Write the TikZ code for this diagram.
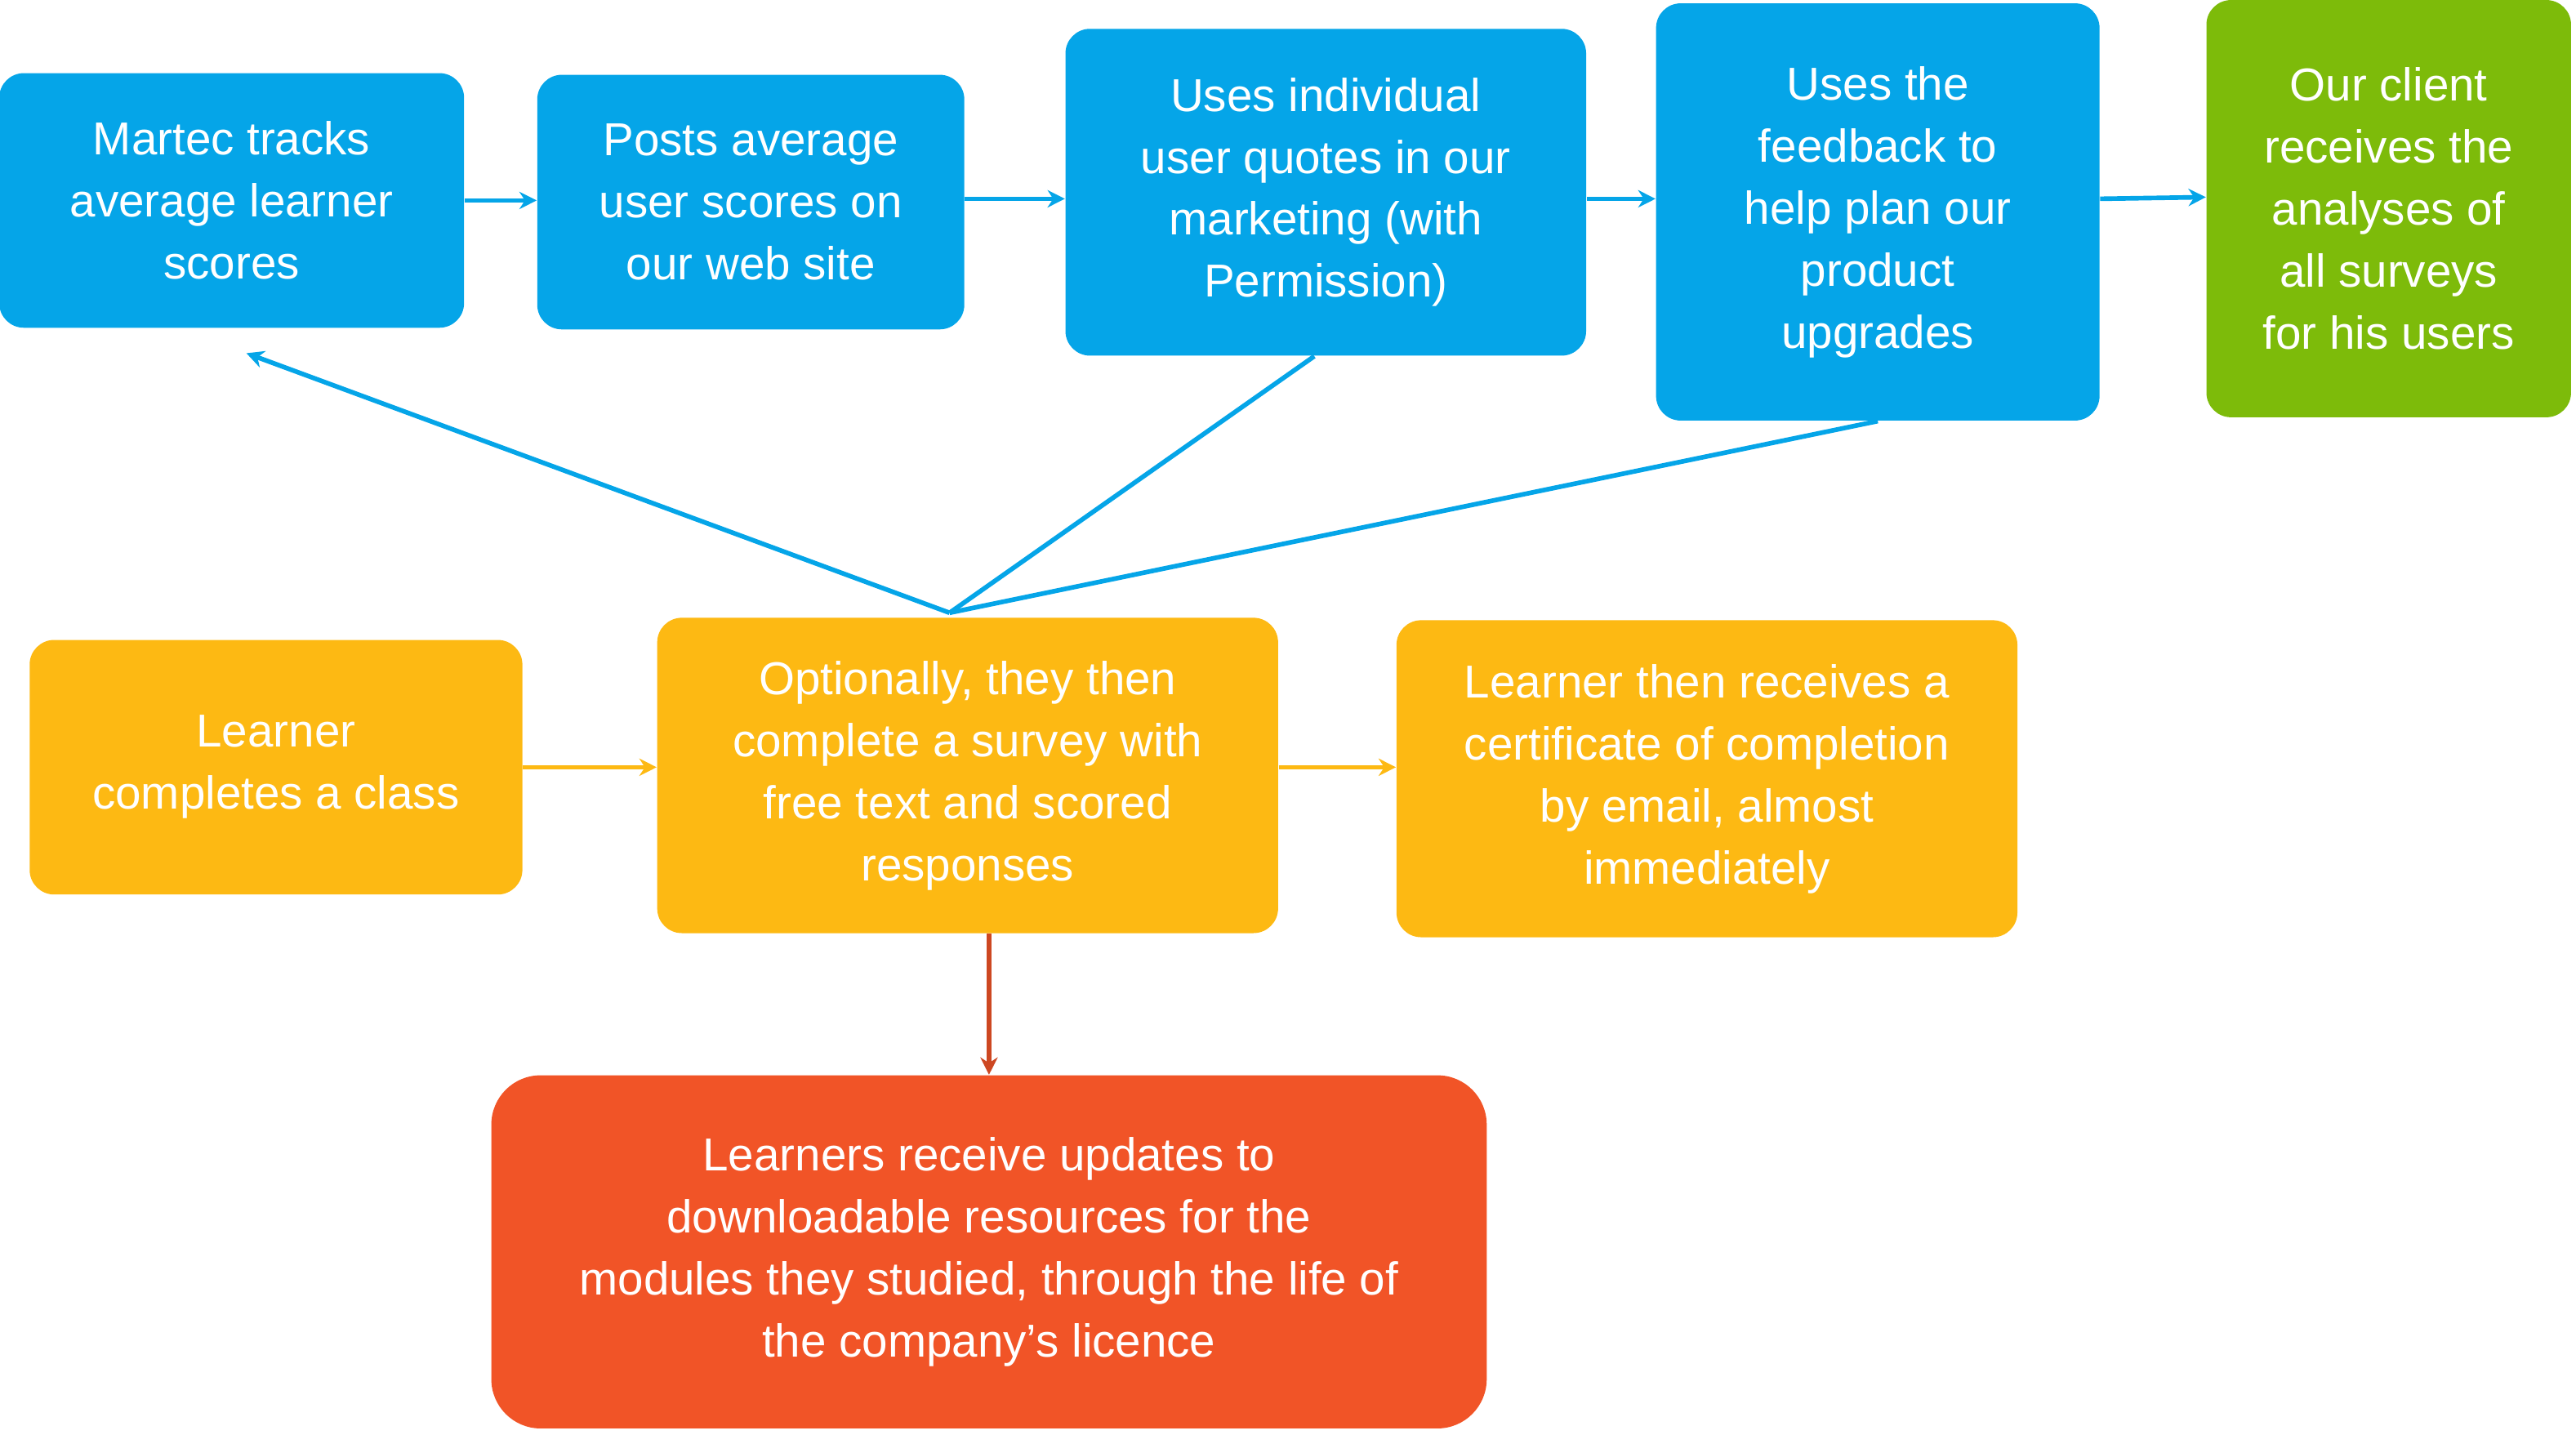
\documentclass[tikz,border=0pt]{standalone}
\usepackage{fontspec}
\setmainfont{Liberation Sans}
\usetikzlibrary{arrows.meta}
\definecolor{boxblue}{RGB}{5,165,232}
\definecolor{boxorange}{RGB}{253,185,19}
\definecolor{boxgreen}{RGB}{125,187,10}
\definecolor{boxred}{RGB}{241,84,39}
\tikzset{
  box/.style={draw=none, rounded corners=0.3cm, text=white, align=center,
    inner sep=0pt, font=\fontsize{16}{21.5}\selectfont},
  arr/.style={line width=1.6pt, -{Stealth[length=6pt,width=6pt]}},
}
\begin{document}
\begin{tikzpicture}[x=0.02cm,y=-0.02cm]
\useasboundingbox (0,0) rectangle (1568,873);

% top row
\node[box, fill=boxblue, minimum width=5.66cm, minimum height=3.1cm] (track) at (141,122) {Martec tracks\\average learner\\scores};
\node[box, fill=boxblue, minimum width=5.2cm, minimum height=3.1cm] (posts) at (457,123) {Posts average\\user scores on\\our web site};
\node[box, fill=boxblue, minimum width=6.34cm, minimum height=3.98cm] (quotes) at (807,117) {Uses individual\\user quotes in our\\marketing (with\\Permission)};
\node[box, fill=boxblue, minimum width=5.4cm, minimum height=5.08cm] (plan) at (1143,129) {Uses the\\feedback to\\help plan our\\product\\upgrades};
\node[box, fill=boxgreen, minimum width=4.44cm, minimum height=5.08cm] (client) at (1454,127) {Our client\\receives the\\analyses of\\all surveys\\for his users};

% middle row
\node[box, fill=boxorange, minimum width=6cm, minimum height=3.1cm] (class) at (168,467) {Learner\\completes a class};
\node[box, fill=boxorange, minimum width=7.56cm, minimum height=3.84cm] (survey) at (589,472) {Optionally, they then\\complete a survey with\\free text and scored\\responses};
\node[box, fill=boxorange, minimum width=7.56cm, minimum height=3.86cm] (cert) at (1039,474) {Learner then receives a\\certificate of completion\\by email, almost\\immediately};

% bottom
\node[box, fill=boxred, minimum width=12.12cm, minimum height=4.3cm, rounded corners=0.6cm] (updates) at (602,762) {Learners receive updates to\\downloadable resources for the\\modules they studied, through the life of\\the company’s licence};

\coordinate (hub) at (578,373);
\coordinate (trackin) at (150,215);

\draw[arr, boxblue] (track.east |- 0,122) -- (posts.west |- 0,122);
\draw[arr, boxblue] (posts.east |- 0,121) -- (quotes.west |- 0,121);
\draw[arr, boxblue] (quotes.east |- 0,121) -- (plan.west |- 0,121);
\draw[arr, boxblue] (plan.east |- 0,121) -- (client.west |- 0,120);

\draw[arr, boxblue] (hub) -- (trackin);
\draw[line width=1.6pt, boxblue] (hub) -- (quotes.south -| 800,0);
\draw[line width=1.6pt, boxblue] (hub) -- (plan.south);

\draw[arr, boxorange] (class.east |- 0,467) -- (survey.west |- 0,467);
\draw[arr, boxorange] (survey.east |- 0,467) -- (cert.west |- 0,467);
\draw[arr, boxred!85!black] (survey.south -| 602,0) -- (updates.north);
\end{tikzpicture}
\end{document}
